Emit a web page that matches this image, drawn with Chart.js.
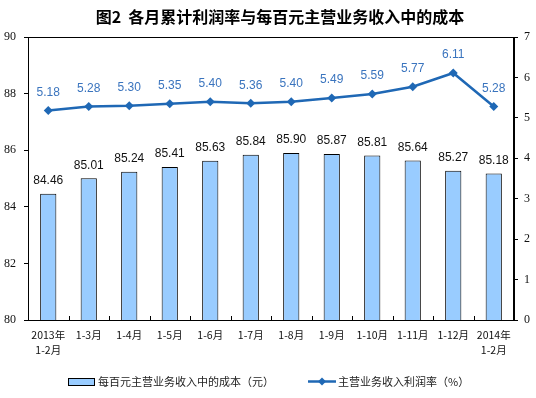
<!DOCTYPE html>
<html>
<head>
<meta charset="utf-8">
<script src="https://cdn.jsdelivr.net/npm/chart.js@4/dist/chart.umd.min.js"></script>
<style>
html,body{margin:0;padding:0;background:#fff;}
#wrap{width:536px;height:398px;position:relative;}
</style>
</head>
<body>
<div id="wrap"><canvas id="c" width="536" height="398"></canvas></div>
<script>
const titleText = "图2  各月累计利润率与每百元主营业务收入中的成本";
const categories = [["2013年","1-2月"],"1-3月","1-4月","1-5月","1-6月","1-7月","1-8月","1-9月","1-10月","1-11月","1-12月",["2014年","1-2月"]];
const costValues = [84.46,85.01,85.24,85.41,85.63,85.84,85.90,85.87,85.81,85.64,85.27,85.18];
const rateValues = [5.18,5.28,5.30,5.35,5.40,5.36,5.40,5.49,5.59,5.77,6.11,5.28];
const costName = "每百元主营业务收入中的成本（元）";
const rateName = "主营业务收入利润率（%）";
const leftTicks = [80,82,84,86,88,90];
const rightTicks = [0,1,2,3,4,5,6,7];

const BAR_FILL = "#99CCFF";
const LINE_COL = "#1F68B5";
const LABEL_BLUE = "#3A74BE";

function diamond(ctx, x, y, r){
  ctx.beginPath();
  ctx.moveTo(x, y-r); ctx.lineTo(x+r, y); ctx.lineTo(x, y+r); ctx.lineTo(x-r, y); ctx.closePath();
  ctx.fill();
}

const decorPlugin = {
  id: 'decor',
  afterDatasetsDraw(chart){
    const ctx = chart.ctx;
    const a = chart.chartArea;
    ctx.save();
    ctx.strokeStyle = "#000"; ctx.lineWidth = 1;
    ctx.strokeRect(Math.round(a.left)+0.5, Math.round(a.top)+0.5, Math.round(a.right-a.left)-1, Math.round(a.bottom-a.top));
    const xs = chart.scales.x;
    ctx.beginPath();
    for (let i=1;i<categories.length;i++){
      const x = Math.round((xs.getPixelForTick(i-1)+xs.getPixelForTick(i))/2)+0.5;
      ctx.moveTo(x, a.bottom); ctx.lineTo(x, a.bottom-4);
    }
    ctx.stroke();
    ctx.font = "12px 'Liberation Sans', Arial, sans-serif";
    ctx.fillStyle = "#111"; ctx.textAlign = "center"; ctx.textBaseline = "middle";
    chart.getDatasetMeta(0).data.forEach((el,i)=>{
      ctx.fillText(costValues[i].toFixed(2), el.x, el.y-13);
    });
    ctx.fillStyle = LABEL_BLUE;
    chart.getDatasetMeta(1).data.forEach((el,i)=>{
      ctx.fillText(rateValues[i].toFixed(2), el.x, el.y-18);
    });
    ctx.font = "bold 16px 'Noto Sans CJK SC', sans-serif";
    ctx.fillStyle = "#000";
    ctx.fillText(titleText, 280, 17);
    ctx.font = "11px 'Noto Sans CJK SC', sans-serif";
    ctx.textAlign = "left";
    ctx.fillStyle = BAR_FILL;
    ctx.fillRect(68, 378, 26, 7);
    ctx.strokeStyle = "#000"; ctx.lineWidth = 1;
    ctx.strokeRect(68.5, 378.5, 26, 7);
    ctx.fillStyle = "#222";
    ctx.fillText(costName, 98, 382);
    ctx.strokeStyle = LINE_COL; ctx.lineWidth = 2.5;
    ctx.beginPath(); ctx.moveTo(308, 381.5); ctx.lineTo(336, 381.5); ctx.stroke();
    ctx.fillStyle = LINE_COL;
    diamond(ctx, 322, 381.5, 4);
    ctx.fillStyle = "#222";
    ctx.fillText(rateName, 338, 382);
    ctx.restore();
  }
};

new Chart(document.getElementById('c'), {
  data: {
    labels: categories,
    datasets: [
      {
        type: 'bar', label: costName, data: costValues, yAxisID: 'y',
        backgroundColor: BAR_FILL, borderColor: "#000", borderWidth: 1,
        barPercentage: 0.4, categoryPercentage: 1.0, order: 2
      },
      {
        type: 'line', label: rateName, data: rateValues, yAxisID: 'y1',
        borderColor: LINE_COL, borderWidth: 2.5, backgroundColor: LINE_COL,
        pointStyle: 'rectRot', pointRadius: 4.5, pointBorderWidth: 0,
        tension: 0, order: 1
      }
    ]
  },
  options: {
    responsive: false, animation: false,
    layout: { padding: { top: 37, left: 0, right: 0, bottom: 0 } },
    plugins: { legend: { display: false }, tooltip: { enabled: false }, title: { display: false } },
    scales: {
      x: {
        offset: true,
        grid: { display: false },
        border: { display: false },
        ticks: { color: "#111", padding: 0, maxRotation: 0, autoSkip: false,
                 font: { family: "'Noto Sans CJK SC', sans-serif", size: 10.5, lineHeight: 1.4 } },
        afterFit(s){ s.height = 78; }
      },
      y: {
        position: 'left', min: 80, max: 90,
        afterBuildTicks(s){ s.ticks = leftTicks.map(v=>({value:v})); },
        grid: { drawOnChartArea: false, color: "#000", tickLength: 4 },
        border: { display: true, color: "#000" },
        ticks: { color: "#111", padding: 8, font: { family: "'Liberation Serif', serif", size: 12 } },
        afterFit(s){ s.width = 28; }
      },
      y1: {
        position: 'right', min: 0, max: 7,
        afterBuildTicks(s){ s.ticks = rightTicks.map(v=>({value:v})); },
        grid: { drawOnChartArea: false, color: "#000", tickLength: 4 },
        border: { display: true, color: "#000" },
        ticks: { color: "#111", padding: 6, font: { family: "'Liberation Serif', serif", size: 12 } },
        afterFit(s){ s.width = 22; }
      }
    }
  },
  plugins: [decorPlugin]
});
</script>
</body>
</html>
